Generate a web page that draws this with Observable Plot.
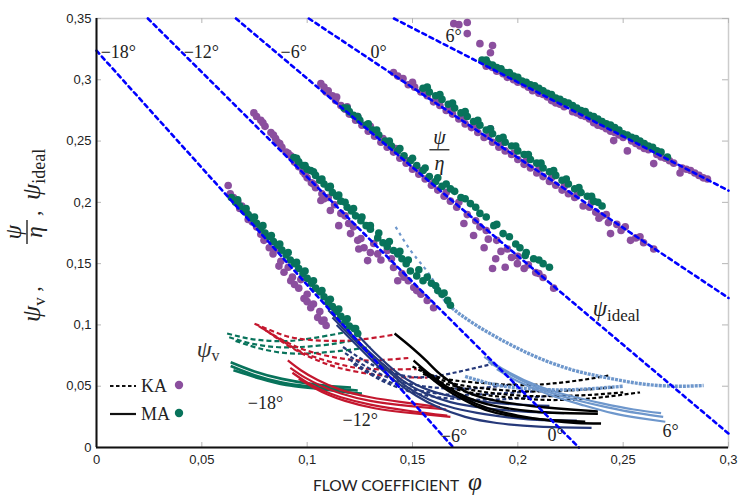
<!DOCTYPE html>
<html><head><meta charset="utf-8">
<script src="https://cdn.jsdelivr.net/npm/d3@7"></script>
<script src="https://cdn.jsdelivr.net/npm/@observablehq/plot@0.6"></script>
<style>body{margin:0;background:#fff}#chart{width:739px;height:501px}</style>
</head><body><div id="chart"></div>
<script>
// ---------- axes ----------
const xTicks = [0, 0.05, 0.1, 0.15, 0.2, 0.25, 0.3];
const yTicks = [0, 0.05, 0.1, 0.15, 0.2, 0.25, 0.3, 0.35];

// ---------- ψ ideal lines (blade angle) ----------
const angleNames = ["−18°", "−12°", "−6°", "0°", "6°"];
const idealStart = [[0, 0.3238], [0.0244, 0.35], [0.0662, 0.35], [0.1008, 0.35], [0.1412, 0.35]];
const idealEnd = [[0.1694, 0], [0.229, 0], [0.3, 0.0114], [0.3, 0.122], [0.3, 0.2096]];
const topLabelPos = [[0.002, 0.3225], [0.0414, 0.3225], [0.0874, 0.3225], [0.1301, 0.3225], [0.1657, 0.3352]];
const bottomLabelPos = [[0.0718, 0.0359], [0.1168, 0.022], [0.1634, 0.009], [0.2141, 0.0098], [0.2687, 0.013]];

// ---------- ψ/η points: KA (purple) and MA (green) ----------
const ka18 = [[0.0625,0.2137],[0.0635,0.207],[0.065,0.204],[0.067,0.201],[0.069,0.197],[0.071,0.192],[0.073,0.188],[0.076,0.18],[0.078,0.174],[0.0795,0.169],[0.082,0.163],[0.0838,0.158],[0.0866,0.148],[0.089,0.143],[0.0922,0.136],[0.094,0.133],[0.096,0.13],[0.0985,0.1215],[0.1,0.119],[0.1017,0.114],[0.105,0.106],[0.107,0.103],[0.109,0.0995],[0.085,0.162],[0.091,0.147],[0.097,0.137],[0.068,0.195],[0.072,0.186],[0.074,0.184],[0.08,0.172],[0.0875,0.152],[0.093,0.139],[0.1,0.125],[0.103,0.117],[0.106,0.111],[0.108,0.104]];
const ma18 = [[0.064,0.204],[0.066,0.2],[0.068,0.197],[0.07,0.193],[0.072,0.19],[0.074,0.187],[0.076,0.183],[0.078,0.179],[0.08,0.175],[0.082,0.172],[0.084,0.168],[0.086,0.165],[0.088,0.161],[0.09,0.157],[0.092,0.153],[0.094,0.15],[0.096,0.146],[0.098,0.142],[0.1,0.138],[0.102,0.134],[0.104,0.13],[0.106,0.127],[0.108,0.123],[0.11,0.119],[0.112,0.115],[0.114,0.111],[0.116,0.107],[0.118,0.103],[0.12,0.099],[0.1222,0.097],[0.124,0.093],[0.067,0.202],[0.071,0.195],[0.075,0.188],[0.079,0.181],[0.083,0.173],[0.087,0.166],[0.091,0.159],[0.095,0.151],[0.099,0.144],[0.103,0.136],[0.107,0.128],[0.111,0.121],[0.115,0.113],[0.119,0.105],[0.123,0.097]];
const ka12 = [[0.0747,0.273],[0.076,0.27],[0.078,0.267],[0.08,0.262],[0.0828,0.257],[0.085,0.252],[0.086,0.249],[0.088,0.245],[0.09,0.241],[0.0922,0.238],[0.094,0.233],[0.096,0.229],[0.098,0.225],[0.1,0.22],[0.102,0.216],[0.104,0.212],[0.1065,0.2015],[0.108,0.203],[0.11,0.204],[0.111,0.1933],[0.115,0.181],[0.116,0.191],[0.1197,0.1827],[0.1206,0.1745],[0.124,0.169],[0.1245,0.162],[0.1255,0.1705],[0.127,0.163],[0.1287,0.1525],[0.1316,0.1664],[0.1335,0.158],[0.138,0.1607],[0.141,0.1468],[0.143,0.136],[0.145,0.142],[0.1506,0.1305],[0.148,0.136],[0.154,0.125],[0.157,0.12],[0.16,0.114],[0.079,0.265],[0.084,0.255],[0.087,0.248],[0.091,0.24],[0.095,0.232],[0.099,0.223],[0.103,0.215],[0.107,0.207],[0.113,0.198],[0.118,0.189],[0.122,0.18],[0.13,0.159],[0.135,0.153],[0.14,0.154],[0.146,0.139],[0.152,0.128]];
const ma12 = [[0.0937,0.2365],[0.096,0.233],[0.098,0.23],[0.1,0.227],[0.1017,0.226],[0.104,0.222],[0.106,0.218],[0.108,0.215],[0.11,0.212],[0.112,0.208],[0.114,0.205],[0.116,0.201],[0.119,0.196],[0.121,0.193],[0.123,0.189],[0.1255,0.185],[0.128,0.181],[0.13,0.178],[0.1335,0.171],[0.136,0.167],[0.138,0.164],[0.141,0.1607],[0.143,0.158],[0.145,0.154],[0.147,0.15],[0.149,0.144],[0.152,0.14],[0.155,0.136],[0.159,0.134],[0.162,0.128],[0.164,0.125],[0.1667,0.12],[0.168,0.116],[0.095,0.236],[0.099,0.23],[0.103,0.225],[0.107,0.219],[0.111,0.213],[0.115,0.206],[0.118,0.2],[0.122,0.195],[0.126,0.188],[0.13,0.181],[0.134,0.175],[0.139,0.168],[0.144,0.16],[0.148,0.153],[0.153,0.145],[0.157,0.139],[0.161,0.132],[0.165,0.126]];
const ka6 = [[0.1065,0.297],[0.108,0.294],[0.11,0.291],[0.112,0.287],[0.1135,0.283],[0.116,0.279],[0.118,0.276],[0.12,0.272],[0.123,0.267],[0.126,0.263],[0.129,0.258],[0.132,0.254],[0.135,0.249],[0.138,0.245],[0.141,0.241],[0.144,0.236],[0.147,0.232],[0.15,0.227],[0.153,0.223],[0.156,0.219],[0.159,0.214],[0.162,0.21],[0.165,0.205],[0.168,0.201],[0.171,0.196],[0.1744,0.1827],[0.176,0.19],[0.179,0.173],[0.18,0.185],[0.184,0.163],[0.185,0.177],[0.188,0.146],[0.1895,0.154],[0.19,0.169],[0.194,0.147],[0.195,0.162],[0.1998,0.15],[0.2,0.156],[0.205,0.149],[0.2085,0.1427],[0.21,0.142],[0.212,0.1387],[0.217,0.13],[0.109,0.29],[0.114,0.286],[0.119,0.278],[0.124,0.27],[0.13,0.262],[0.136,0.252],[0.142,0.244],[0.148,0.234],[0.154,0.226],[0.16,0.216],[0.166,0.208],[0.172,0.2],[0.182,0.18],[0.186,0.17],[0.192,0.16],[0.197,0.155],[0.203,0.146]];
const ma6 = [[0.1175,0.277],[0.12,0.274],[0.122,0.271],[0.125,0.267],[0.128,0.263],[0.131,0.259],[0.134,0.255],[0.137,0.25],[0.14,0.246],[0.143,0.242],[0.146,0.238],[0.149,0.234],[0.152,0.23],[0.155,0.226],[0.158,0.221],[0.161,0.217],[0.164,0.213],[0.168,0.211],[0.173,0.204],[0.1775,0.199],[0.182,0.191],[0.1886,0.181],[0.193,0.1745],[0.199,0.166],[0.2035,0.1566],[0.204,0.159],[0.2075,0.154],[0.212,0.15],[0.215,0.147],[0.119,0.277],[0.124,0.27],[0.129,0.264],[0.133,0.259],[0.139,0.25],[0.144,0.244],[0.15,0.236],[0.156,0.228],[0.162,0.22],[0.166,0.215],[0.17,0.209],[0.175,0.203],[0.18,0.196],[0.185,0.188],[0.19,0.182],[0.196,0.172],[0.201,0.163],[0.21,0.153]];
const ka0 = [[0.141,0.306],[0.1455,0.301],[0.148,0.296],[0.151,0.294],[0.154,0.29],[0.157,0.287],[0.16,0.282],[0.163,0.279],[0.166,0.275],[0.169,0.272],[0.172,0.268],[0.175,0.264],[0.178,0.261],[0.181,0.257],[0.184,0.253],[0.187,0.26],[0.188,0.249],[0.191,0.245],[0.194,0.242],[0.197,0.239],[0.2,0.235],[0.203,0.231],[0.206,0.228],[0.209,0.224],[0.212,0.221],[0.215,0.217],[0.218,0.214],[0.221,0.21],[0.224,0.207],[0.227,0.204],[0.231,0.197],[0.234,0.196],[0.237,0.192],[0.2385,0.187],[0.24,0.189],[0.243,0.1835],[0.244,0.1745],[0.247,0.182],[0.249,0.177],[0.2535,0.169],[0.256,0.171],[0.2597,0.167],[0.2645,0.162],[0.143,0.303],[0.15,0.298],[0.156,0.291],[0.162,0.284],[0.168,0.276],[0.174,0.269],[0.18,0.262],[0.186,0.254],[0.192,0.248],[0.198,0.24],[0.204,0.234],[0.21,0.227],[0.216,0.22],[0.222,0.213],[0.228,0.206],[0.235,0.2],[0.242,0.19],[0.251,0.18],[0.258,0.172]];
const ma0 = [[0.155,0.293],[0.158,0.29],[0.161,0.287],[0.164,0.284],[0.167,0.28],[0.17,0.277],[0.173,0.273],[0.176,0.27],[0.179,0.266],[0.182,0.263],[0.185,0.259],[0.188,0.256],[0.191,0.252],[0.194,0.249],[0.197,0.246],[0.2,0.242],[0.203,0.239],[0.206,0.235],[0.209,0.232],[0.212,0.228],[0.215,0.225],[0.218,0.222],[0.221,0.218],[0.224,0.215],[0.227,0.211],[0.23,0.208],[0.233,0.205],[0.236,0.201],[0.24,0.197],[0.157,0.294],[0.163,0.288],[0.169,0.281],[0.175,0.274],[0.181,0.267],[0.187,0.26],[0.193,0.253],[0.199,0.246],[0.205,0.239],[0.211,0.232],[0.217,0.226],[0.223,0.219],[0.229,0.212],[0.235,0.205],[0.238,0.2]];
const kaP6 = [[0.1696,0.3458],[0.172,0.345],[0.176,0.3467],[0.176,0.3377],[0.182,0.3295],[0.187,0.322],[0.188,0.328],[0.185,0.311],[0.19,0.307],[0.195,0.302],[0.2,0.298],[0.203,0.296],[0.207,0.291],[0.21,0.289],[0.214,0.286],[0.218,0.281],[0.222,0.278],[0.226,0.274],[0.23,0.271],[0.234,0.268],[0.238,0.263],[0.242,0.26],[0.2455,0.2504],[0.246,0.257],[0.25,0.253],[0.252,0.242],[0.254,0.25],[0.258,0.246],[0.262,0.243],[0.2645,0.2316],[0.266,0.239],[0.27,0.236],[0.274,0.232],[0.277,0.224],[0.278,0.228],[0.282,0.226],[0.286,0.222],[0.29,0.219],[0.188,0.31],[0.193,0.305],[0.198,0.3],[0.205,0.294],[0.212,0.288],[0.216,0.283],[0.22,0.28],[0.228,0.273],[0.232,0.27],[0.236,0.265],[0.24,0.262],[0.244,0.258],[0.248,0.255],[0.256,0.248],[0.26,0.244],[0.268,0.237],[0.272,0.234],[0.28,0.227],[0.284,0.224],[0.288,0.22]];
const maP6 = [[0.183,0.316],[0.186,0.313],[0.19,0.31],[0.194,0.306],[0.198,0.303],[0.202,0.299],[0.206,0.296],[0.21,0.293],[0.214,0.289],[0.218,0.285],[0.222,0.282],[0.226,0.279],[0.23,0.275],[0.234,0.271],[0.238,0.268],[0.242,0.264],[0.246,0.261],[0.25,0.256],[0.254,0.253],[0.258,0.25],[0.262,0.246],[0.266,0.242],[0.185,0.316],[0.188,0.312],[0.192,0.309],[0.196,0.306],[0.2,0.302],[0.204,0.298],[0.208,0.295],[0.212,0.291],[0.216,0.288],[0.22,0.284],[0.224,0.281],[0.228,0.277],[0.232,0.274],[0.236,0.27],[0.24,0.266],[0.244,0.263],[0.248,0.259],[0.252,0.255],[0.256,0.252],[0.26,0.248],[0.264,0.245],[0.268,0.241],[0.271,0.237]];

// ---------- ψv curves: dashed = KA, solid = MA ----------
const greenKA = [
  [[0.062,0.093],[0.072,0.089],[0.082,0.087],[0.092,0.087],[0.102,0.089],[0.112,0.092],[0.118,0.094]],
  [[0.063,0.09],[0.073,0.085],[0.085,0.082],[0.097,0.082],[0.11,0.084],[0.124,0.088]],
  [[0.066,0.087],[0.077,0.081],[0.09,0.077],[0.103,0.077],[0.117,0.079],[0.13,0.082]]];
const greenMA = [
  [[0.0637,0.0695],[0.075,0.062],[0.088,0.056],[0.1032,0.0515],[0.112,0.05],[0.1208,0.049]],
  [[0.0637,0.0665],[0.075,0.059],[0.088,0.053],[0.1,0.05],[0.112,0.048],[0.124,0.0465]],
  [[0.065,0.063],[0.078,0.056],[0.09,0.051],[0.105,0.048],[0.119,0.045],[0.126,0.044]]];
const redKA = [
  [[0.075,0.101],[0.085,0.094],[0.095,0.089],[0.11,0.087],[0.125,0.088],[0.141,0.092]],
  [[0.077,0.099],[0.088,0.088],[0.1,0.079],[0.115,0.073],[0.13,0.071],[0.148,0.073]],
  [[0.079,0.097],[0.09,0.085],[0.1,0.076],[0.115,0.068],[0.13,0.064],[0.152,0.064]],
  [[0.081,0.095],[0.092,0.082],[0.105,0.071],[0.12,0.063],[0.14,0.058],[0.157,0.057]]];
const redMA = [
  [[0.0908,0.071],[0.097,0.063],[0.105,0.055],[0.116,0.047],[0.13,0.041],[0.145,0.037],[0.163,0.033]],
  [[0.092,0.065],[0.099,0.057],[0.107,0.05],[0.116,0.044],[0.13,0.038],[0.148,0.034],[0.166,0.031]],
  [[0.093,0.061],[0.1,0.053],[0.108,0.046],[0.116,0.041],[0.13,0.035],[0.148,0.03],[0.1665,0.026]],
  [[0.096,0.056],[0.103,0.049],[0.11,0.043],[0.118,0.038],[0.132,0.032],[0.15,0.028],[0.168,0.025]]];
const navyKA = [
  [[0.117,0.082],[0.127,0.071],[0.137,0.063],[0.148,0.058],[0.16,0.058],[0.175,0.063],[0.19,0.069]],
  [[0.118,0.077],[0.13,0.064],[0.142,0.055],[0.155,0.05],[0.17,0.048],[0.185,0.049],[0.2,0.052]],
  [[0.12,0.072],[0.132,0.059],[0.145,0.05],[0.158,0.045],[0.172,0.043],[0.19,0.044],[0.21,0.046]],
  [[0.122,0.068],[0.135,0.055],[0.148,0.046],[0.162,0.041],[0.18,0.039],[0.2,0.04],[0.22,0.043]]];
const navyMA = [
  [[0.108,0.118],[0.116,0.106],[0.125,0.09],[0.1335,0.075],[0.142,0.062],[0.152,0.051],[0.165,0.043],[0.18,0.038],[0.2,0.035],[0.215,0.034]],
  [[0.11,0.112],[0.118,0.098],[0.127,0.082],[0.136,0.068],[0.145,0.055],[0.155,0.045],[0.168,0.037],[0.185,0.032],[0.205,0.029],[0.222,0.028]],
  [[0.112,0.106],[0.12,0.092],[0.13,0.075],[0.14,0.06],[0.1477,0.049],[0.158,0.039],[0.17,0.032],[0.185,0.027],[0.205,0.023],[0.228,0.022]],
  [[0.114,0.1],[0.122,0.086],[0.132,0.069],[0.142,0.054],[0.152,0.042],[0.162,0.033],[0.175,0.025],[0.19,0.02],[0.21,0.017],[0.235,0.016]]];
const blackKA = [
  [[0.15,0.066],[0.163,0.057],[0.18,0.053],[0.2,0.051],[0.215,0.052],[0.23,0.055],[0.244,0.059]],
  [[0.155,0.06],[0.17,0.052],[0.185,0.048],[0.2,0.046],[0.215,0.046],[0.23,0.047],[0.245,0.049]],
  [[0.16,0.055],[0.175,0.048],[0.19,0.044],[0.205,0.042],[0.22,0.042],[0.235,0.043],[0.25,0.045]],
  [[0.165,0.05],[0.18,0.044],[0.195,0.041],[0.21,0.039],[0.225,0.039],[0.24,0.041],[0.258,0.045]]];
const blackMA = [
  [[0.1415,0.093],[0.15,0.081],[0.157,0.07],[0.163,0.06],[0.17,0.051],[0.176,0.045],[0.19,0.038],[0.211,0.033],[0.225,0.031],[0.238,0.0295]],
  [[0.1505,0.071],[0.158,0.06],[0.165,0.051],[0.172,0.044],[0.182,0.037],[0.195,0.032],[0.21,0.029],[0.225,0.028],[0.238,0.0275]],
  [[0.153,0.066],[0.16,0.056],[0.168,0.047],[0.176,0.039],[0.186,0.032],[0.2,0.026],[0.215,0.022],[0.228,0.02],[0.2395,0.0196]],
  [[0.155,0.062],[0.163,0.051],[0.171,0.042],[0.18,0.034],[0.19,0.028],[0.205,0.024],[0.22,0.022],[0.232,0.021]]];
const lightKAtop = [[[0.142,0.18],[0.149,0.161],[0.1555,0.147],[0.16,0.136],[0.164,0.124]]];
const lightKA = [
  [[0.164,0.124],[0.168,0.115],[0.18,0.1],[0.1953,0.085],[0.21,0.073],[0.2265,0.063],[0.242,0.057],[0.2584,0.052],[0.275,0.05],[0.2882,0.0506]],
  [[0.175,0.058],[0.19,0.051],[0.205,0.048],[0.22,0.047],[0.235,0.048],[0.25,0.05]]];
const lightMA = [
  [[0.184,0.074],[0.195,0.062],[0.21,0.05],[0.225,0.042],[0.24,0.036],[0.255,0.031],[0.268,0.028]],
  [[0.186,0.07],[0.197,0.059],[0.212,0.047],[0.227,0.039],[0.242,0.033],[0.257,0.028],[0.269,0.025]],
  [[0.19,0.064],[0.2,0.054],[0.215,0.043],[0.23,0.035],[0.245,0.028],[0.258,0.024],[0.27,0.021]]];

// ---------- annotation anchors (data coords) ----------
const psiVPos = [0.0478, 0.0735];
const fracPos = [0.163, 0.2425];
const idealPos = [0.2358, 0.107];

// ---------- colours ----------
const PURPLE = "#8b4f9e", GREEN = "#08735b", RED = "#c4172e", NAVY = "#26397a", LIGHT = "#6e97cc", BLUE = "#0000ff";

const fmt = d => String(d).replace(".", ",");
const rows = (curves, tag) => curves.flatMap((c, i) => c.map(([x, y]) => ({id: tag + i, x, y})));
const idealRows = angleNames.flatMap((a, i) => [{a, x: idealStart[i][0], y: idealStart[i][1]}, {a, x: idealEnd[i][0], y: idealEnd[i][1]}]);
const lineMark = (curves, tag, color, dashed, sw = 2.2) => Plot.line(rows(curves, tag), {
  x: "x", y: "y", z: "id", stroke: color, strokeWidth: sw, curve: "natural",
  strokeDasharray: dashed ? dashed : null, strokeLinecap: "butt"
});
const dotMark = (pts, color) => Plot.dot(pts, {x: d => d[0], y: d => d[1], r: 3.8, fill: color, stroke: "none"});

const PW = 739 - 96 - 11, PH = 501 - 18 - 54;

const plot = Plot.plot({
  width: 739, height: 501,
  marginLeft: 96, marginRight: 11, marginTop: 18, marginBottom: 54,
  x: {domain: [0, 0.3]},
  y: {domain: [0, 0.35]},
  style: {fontFamily: "'Liberation Sans', Arial, sans-serif", fontSize: "13px", background: "white", color: "#222", overflow: "visible"},
  marks: [
    Plot.frame({stroke: "#cccccc", strokeWidth: 1.5}),
    Plot.ruleX(xTicks, {stroke: "#b5b5b5", insetTop: PH - 5}),
    Plot.ruleX(xTicks, {stroke: "#b5b5b5", insetBottom: PH - 5}),
    Plot.ruleY(yTicks, {stroke: "#b5b5b5", insetRight: PW - 5}),
    Plot.ruleY(yTicks, {stroke: "#b5b5b5", insetLeft: PW - 6}),
    Plot.axisX({ticks: xTicks, tickFormat: fmt, tickSize: 0, tickPadding: 7, label: null, fontSize: 13}),
    Plot.axisY({ticks: yTicks, tickFormat: fmt, tickSize: 0, tickPadding: 5, label: null, fontSize: 13}),
    // ψv curves
    lineMark(greenKA, "gk", GREEN, "5,3"),
    lineMark(redKA, "rk", RED, "5,3"),
    lineMark(navyKA, "nk", NAVY, "4,2.5"),
    lineMark(blackKA, "kk", "#000", "4,2.5"),
    lineMark(lightKAtop, "lt", LIGHT, "3,4", 2.2),
    lineMark(lightKA, "lk", LIGHT, "3,1", 3.4),
    lineMark(greenMA, "gm", GREEN, null, 2.6),
    lineMark(redMA, "rm", RED, null, 2.2),
    lineMark(navyMA, "nm", NAVY, null, 2.2),
    lineMark(blackMA, "km", "#000", null, 2.4),
    lineMark(lightMA, "lm", LIGHT, null, 2.2),
    // ψ/η points
    dotMark(ka18, PURPLE), dotMark(ma18, GREEN),
    dotMark(ka12, PURPLE), dotMark(ma12, GREEN),
    dotMark(ka6, PURPLE), dotMark(ma6, GREEN),
    dotMark(ka0, PURPLE), dotMark(ma0, GREEN),
    dotMark(kaP6, PURPLE), dotMark(maP6, GREEN),
    // ψ ideal
    Plot.line(idealRows, {x: "x", y: "y", z: "a", stroke: BLUE, strokeWidth: 2.6, strokeDasharray: "4,4"}),
    // axes lines
    Plot.ruleX([0], {stroke: "#111", strokeWidth: 2}),
    Plot.ruleY([0], {stroke: "#111", strokeWidth: 2}),
    // angle labels
    Plot.text(angleNames, {x: (d, i) => topLabelPos[i][0], y: (d, i) => topLabelPos[i][1], text: d => d, textAnchor: "start", fontFamily: "'Liberation Serif', serif", fontSize: 18, fill: "#222"}),
    Plot.text(angleNames, {x: (d, i) => bottomLabelPos[i][0], y: (d, i) => bottomLabelPos[i][1], text: d => d, textAnchor: "start", fontFamily: "'Liberation Serif', serif", fontSize: 18, fill: "#222"})
  ]
});

const svg = d3.select(plot);
const X = plot.scale("x"), Y = plot.scale("y");
const SERIF = "'Liberation Serif', serif";

// ψv label
{
  const g = svg.append("g").attr("transform", `translate(${X.apply(psiVPos[0])},${Y.apply(psiVPos[1])})`).attr("font-family", SERIF).attr("fill", "#333").attr("text-anchor", "start");
  const t = g.append("text").attr("font-size", 24).attr("font-style", "italic").text("ψ");
  t.append("tspan").attr("font-style", "normal").attr("font-size", 16).attr("dy", 4).text("v");
}
// ψ/η fraction
{
  const g = svg.append("g").attr("transform", `translate(${X.apply(fracPos[0])},${Y.apply(fracPos[1])})`).attr("font-family", SERIF).attr("fill", "#222");
  g.append("text").attr("text-anchor", "middle").attr("font-size", 20).attr("font-style", "italic").attr("y", -6).text("ψ");
  g.append("text").attr("text-anchor", "middle").attr("font-size", 20).attr("font-style", "italic").attr("y", 22).attr("dy", "-0.1em").text("η");
  g.append("line").attr("x1", -10).attr("x2", 10).attr("y1", 0).attr("y2", 0).attr("stroke", "#222").attr("stroke-width", 1.3);
}
// ψideal
{
  const g = svg.append("g").attr("transform", `translate(${X.apply(idealPos[0])},${Y.apply(idealPos[1])})`).attr("font-family", SERIF).attr("fill", "#222").attr("text-anchor", "start");
  const t = g.append("text").attr("font-size", 23).attr("font-style", "italic").text("ψ");
  t.append("tspan").attr("font-style", "normal").attr("font-size", 17).attr("dy", 5).text("ideal");
}
// legend
{
  const g = svg.append("g").attr("font-family", SERIF).attr("fill", "#222").attr("text-anchor", "start");
  const rowsL = [["KA", "3.5,2.5", PURPLE, 386], ["MA", null, GREEN, 414]];
  for (const [name, dash, col, yy] of rowsL) {
    g.append("line").attr("x1", 110).attr("x2", 136).attr("y1", yy).attr("y2", yy).attr("stroke", "#111").attr("stroke-width", 2.2).attr("stroke-dasharray", dash);
    g.append("text").attr("x", 141).attr("y", yy + 6).attr("font-size", 18).text(name);
    g.append("circle").attr("cx", 179).attr("cy", yy - 1).attr("r", 4.2).attr("fill", col);
  }
}
// y-axis composite label (rotated)
{
  const g = svg.append("g").attr("transform", "translate(40,322) rotate(-90)").attr("font-family", SERIF).attr("fill", "#222").attr("text-anchor", "start");
  const t = g.append("text").attr("x", 0).attr("y", 0).attr("font-size", 26).attr("font-style", "italic").text("ψ");
  t.append("tspan").attr("font-style", "normal").attr("font-size", 17).attr("dy", 5).text("v");
  t.append("tspan").attr("font-style", "normal").attr("font-size", 22).attr("dy", -5).text(" ,");
  const f = g.append("text").attr("text-anchor", "middle").attr("font-size", 23).attr("font-style", "italic");
  f.append("tspan").attr("x", 90).attr("y", -19).text("ψ");
  f.append("tspan").attr("x", 90).attr("y", 2).text("η");
  g.append("line").attr("x1", 78).attr("x2", 102).attr("y1", -13).attr("y2", -13).attr("stroke", "#222").attr("stroke-width", 1.4);
  g.append("text").attr("x", 106).attr("y", 0).attr("font-size", 22).text(",");
  const t3 = g.append("text").attr("x", 122).attr("y", 0).attr("font-size", 26).attr("font-style", "italic").text("ψ");
  t3.append("tspan").attr("font-style", "normal").attr("font-size", 18).attr("dy", 5).text("ideal");
}
// x-axis title
{
  const g = svg.append("g").attr("fill", "#222").attr("text-anchor", "start");
  g.append("text").attr("x", 313).attr("y", 491).attr("font-family", "Lato, 'Open Sans', sans-serif").attr("font-size", 15.5).text("FLOW COEFFICIENT");
  g.append("text").attr("x", 468).attr("y", 490).attr("font-family", SERIF).attr("font-style", "italic").attr("font-size", 25).text("φ");
}

document.getElementById("chart").appendChild(plot);
</script>
</body></html>
